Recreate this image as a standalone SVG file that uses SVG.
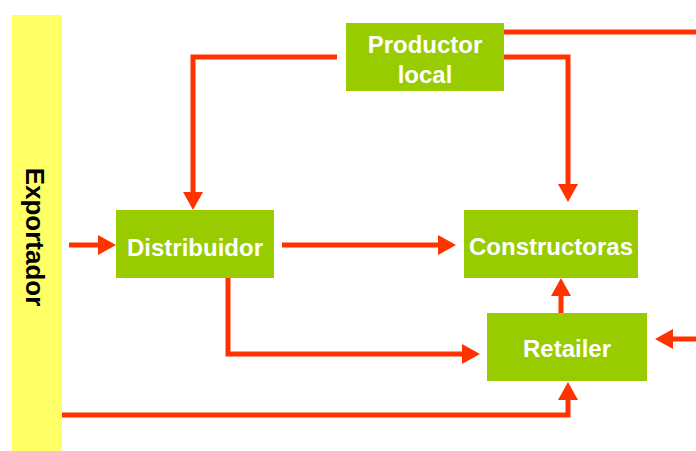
<svg xmlns="http://www.w3.org/2000/svg" width="696" height="451" viewBox="0 0 696 451">
  <style>
    .box { fill: #99CC00; }
    .lbl { font-family: "Liberation Sans", Arial, sans-serif; font-weight: bold; font-size: 24px; fill: #FFFFFF; text-anchor: middle; }
    .conn { fill: none; stroke: #FF3300; stroke-width: 5; stroke-linejoin: miter; }
    .side { font-family: "Liberation Sans", Arial, sans-serif; font-weight: bold; font-size: 26px; fill: #000000; text-anchor: middle; }
  </style>
  <defs>
    <marker id="ah" markerUnits="userSpaceOnUse" viewBox="0 0 18 20" refX="0" refY="10" markerWidth="18" markerHeight="20" orient="auto">
      <path d="M0,0 L18,10 L0,20 Z" fill="#FF3300"/>
    </marker>
  </defs>
  <rect width="696" height="451" fill="#FFFFFF"/>

  <g id="exportador">
    <rect x="12" y="15" width="50" height="436" fill="#FFFF66"/>
    <text class="side" transform="translate(35,237) rotate(90)" x="0" y="9">Exportador</text>
  </g>

  <g id="connectors">
    <path class="conn" d="M337,57 H193 V192" marker-end="url(#ah)"/>
    <path class="conn" d="M504,32 H696"/>
    <path class="conn" d="M504,57 H568 V184" marker-end="url(#ah)"/>
    <path class="conn" d="M69,245 H98" marker-end="url(#ah)"/>
    <path class="conn" d="M282,245 H438" marker-end="url(#ah)"/>
    <path class="conn" d="M228,278 V354 H462" marker-end="url(#ah)"/>
    <path class="conn" d="M561,313 V296" marker-end="url(#ah)"/>
    <path class="conn" d="M62,415 H568 V400" marker-end="url(#ah)"/>
    <path class="conn" d="M696,339 H673" marker-end="url(#ah)"/>
  </g>

  <g id="productor">
    <rect class="box" x="346" y="23" width="158" height="68"/>
    <text class="lbl" x="425" y="53">Productor</text>
    <text class="lbl" x="425" y="83">local</text>
  </g>
  <g id="distribuidor">
    <rect class="box" x="116" y="210" width="158" height="68"/>
    <text class="lbl" x="195" y="256">Distribuidor</text>
  </g>
  <g id="constructoras">
    <rect class="box" x="464" y="210" width="174" height="68"/>
    <text class="lbl" x="551" y="255">Constructoras</text>
  </g>
  <g id="retailer">
    <rect class="box" x="487" y="313" width="160" height="68"/>
    <text class="lbl" x="567" y="357">Retailer</text>
  </g>
</svg>
